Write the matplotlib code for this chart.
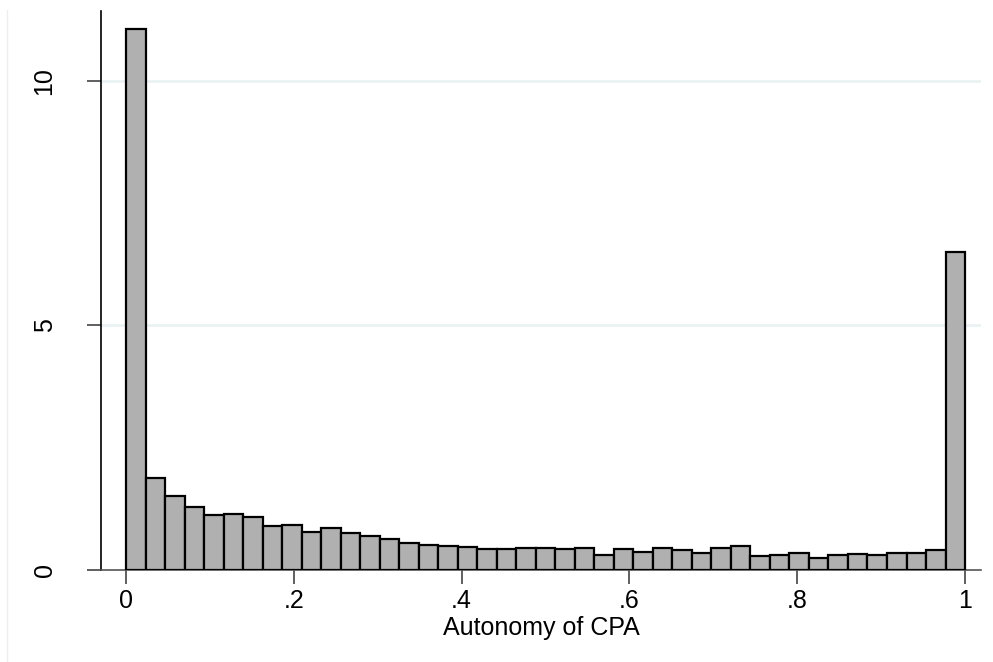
import matplotlib.pyplot as plt
import matplotlib.lines as mlines
import numpy as np

plt.rcParams['font.family'] = ['Liberation Sans', 'DejaVu Sans']

# Histogram of autonomy of CPA (density, 43 bins on [0, 1])
n_bins = 43
bin_edges = np.linspace(0, 1, n_bins + 1)
density = [11.06, 1.89, 1.51, 1.28, 1.13, 1.15, 1.08, 0.89, 0.91, 0.78,
           0.85, 0.75, 0.70, 0.63, 0.55, 0.52, 0.49, 0.48, 0.42, 0.42,
           0.45, 0.46, 0.42, 0.46, 0.31, 0.42, 0.36, 0.46, 0.40, 0.34,
           0.44, 0.50, 0.29, 0.31, 0.34, 0.25, 0.31, 0.33, 0.31, 0.34,
           0.35, 0.41, 6.50]

x_ticks = [0, 0.2, 0.4, 0.6, 0.8, 1]
x_tick_labels = ['0', '.2', '.4', '.6', '.8', '1']
y_ticks = [0, 5, 10]

fig = plt.figure(figsize=(9.93, 6.62), dpi=100)
ax = fig.add_axes([101 / 993, 1 - 570 / 662, 880 / 993, 559 / 662])

widths = np.diff(bin_edges)
ax.bar(bin_edges[:-1], density, width=widths, align='edge',
       color='#b0b0b0', edgecolor='black', linewidth=1.6, zorder=3)

ax.set_xlim(-0.0298, 1.019)
ax.set_ylim(0, 11.43)

ax.set_yticks(y_ticks)
ax.set_yticklabels([str(v) for v in y_ticks], rotation=90, va='center')
ax.set_xticks(x_ticks)
ax.set_xticklabels(x_tick_labels)

for y in y_ticks[1:]:
    ax.axhline(y, color='#eaf2f3', linewidth=2, zorder=1)

ax.tick_params(axis='both', labelsize=18, length=10, width=1.2,
               color='#444444', direction='out')
ax.tick_params(axis='x', pad=4)
ax.tick_params(axis='y', pad=22)

ax.spines['top'].set_visible(False)
ax.spines['right'].set_visible(False)
ax.spines['left'].set_color('black')
ax.spines['left'].set_linewidth(1.2)
ax.spines['bottom'].set_color('#555555')
ax.spines['bottom'].set_linewidth(1.2)

ax.set_xlabel('Autonomy of CPA', fontsize=18, labelpad=2)

# faint outer graph region border on the left
fig.add_artist(mlines.Line2D([7 / 993, 7 / 993], [0, 1 - 10 / 662],
                             color='#eeeeee', linewidth=1))

fig.savefig('out.png', dpi=100)
